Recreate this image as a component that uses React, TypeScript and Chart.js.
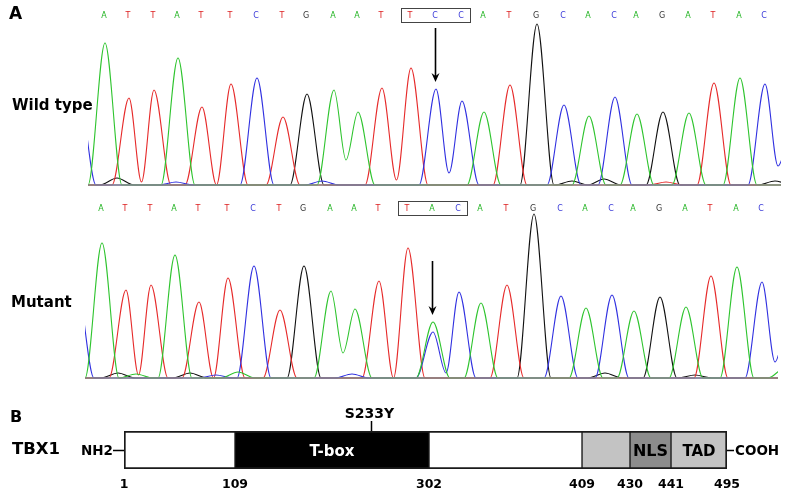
import React, { useEffect, useRef } from "react";
import { Chart, registerables } from "chart.js";

Chart.register(...registerables);

const FONT = '"DejaVu Sans", Verdana, Arial, sans-serif';

// ---- Panel A: sequencing traces (positions in trace scan units) ----
const wtSequence = "ATTATTCTGAATTCCATGCACAGATAC".split("");
const mutantSequence = "ATTATTCTGAATTACATGCACAGATAC".split("");
const basePositions = [17, 41, 66, 90, 114, 143, 169, 195, 219, 246, 270, 294, 323, 348, 374, 396, 422, 449, 476, 501, 527, 549, 575, 601, 626, 652, 677];
const wtPeakHeights = [142, 87, 95, 127, 78, 101, 107, 68, 91, 95, 73, 97, 117, 96, 84, 73, 100, 161, 80, 69, 88, 71, 73, 72, 102, 107, 101];
const mutantPeakHeights = [135, 88, 93, 123, 76, 100, 112, 68, 112, 87, 69, 97, 130, 56, 86, 75, 93, 164, 82, 70, 83, 67, 81, 71, 102, 111, 96];
// secondary (background) peaks: [scan position, base, height]
const wtMinorPeaks: [number, string, number][] = [
  [-9, "C", 90], [29, "G", 7], [88, "C", 3], [234, "C", 4], [484, "G", 4], [516, "G", 6], [578, "T", 3], [687, "G", 4], [703, "C", 50],
];
const mutantMinorPeaks: [number, string, number][] = [
  [-8, "C", 90], [33, "G", 5], [51, "A", 4], [105, "G", 5], [131, "C", 3], [153, "A", 6], [267, "C", 4], [348, "C", 46], [520, "G", 5], [610, "G", 3], [703, "C", 55], [700, "A", 10],
];
// valleys between neighbouring peaks of the same base: [scan position, base, height]
const wtValleys: [number, string, number][] = [
  [54, "T", 3], [128, "T", 0], [258, "A", 25], [308, "T", 5], [361, "C", 12], [690, "C", 19],
];
const mutantValleys: [number, string, number][] = [
  [54, "T", 3], [129, "T", 0], [258, "A", 25], [309, "T", 0], [361, "C", 5], [690, "C", 16],
];
const boxedBases = [12, 13, 14];
const variantIndex = 13;

// ---- Panel B: TBX1 domain schematic ----
const domainNames = ["", "T-box", "", "", "NLS", "TAD"];
const domainDrawnWidths = [111, 194, 153, 48, 41, 56]; // schematic (not to scale) widths as drawn
const boundaryResidues = [1, 109, 302, 409, 430, 441, 495];
const mutationLabel = "S233Y";
const mutationMarkerAt = 247; // schematic units

// ---- styles ----
const traceColors: Record<string, string> = { A: "#2ec42e", C: "#3030e0", G: "#111111", T: "#e62a2a" };
const letterColors: Record<string, string> = { A: "#22b422", C: "#3a3ad8", G: "#333333", T: "#dd2222" };
const domainFill = ["#ffffff", "#000000", "#ffffff", "#c3c3c3", "#8c8c8c", "#c3c3c3"];
const domainText = ["#000", "#ffffff", "#000", "#000", "#000", "#000"];
const domainFont = [15, 15, 15, 15, 16, 15];

const HALF_WIDTH = 17;

function tracePoints(
  seq: string[],
  heights: number[],
  minor: [number, string, number][],
  valleys: [number, string, number][],
  base: string
) {
  const peaks: { x: number; h: number }[] = [];
  seq.forEach((b, i) => {
    if (b === base) peaks.push({ x: basePositions[i], h: heights[i] });
  });
  minor.forEach(([x, b, h]) => {
    if (b === base) peaks.push({ x, h });
  });
  peaks.sort((a, b) => a.x - b.x);
  const pts: { x: number; y: number }[] = [{ x: -60, y: 0 }];
  peaks.forEach((p, i) => {
    const prev = peaks[i - 1];
    const next = peaks[i + 1];
    if (!prev || p.x - prev.x >= 2 * HALF_WIDTH) pts.push({ x: p.x - HALF_WIDTH, y: 0 });
    pts.push({ x: p.x, y: p.h });
    if (!next || next.x - p.x >= 2 * HALF_WIDTH) {
      pts.push({ x: p.x + HALF_WIDTH, y: 0 });
    } else {
      const mid = (p.x + next.x) / 2;
      const v = valleys.find(([vx, vb]) => vb === base && Math.abs(vx - mid) <= 4);
      pts.push({ x: mid, y: v ? v[2] : 0 });
    }
  });
  pts.push({ x: 780, y: 0 });
  return pts;
}

type TraceCfg = {
  seq: string[];
  heights: number[];
  minor: [number, string, number][];
  valleys: [number, string, number][];
  padding: { left: number; right: number; top: number; bottom: number };
  yMax: number;
  letterY: number;
  labels: { text: string; x: number; y: number; size: number }[];
};

function makeTraceChart(canvas: HTMLCanvasElement, cfg: TraceCfg) {
  const decor = {
    id: "traceDecor",
    afterDatasetsDraw(chart: any) {
      const { ctx, chartArea } = chart;
      const xs = chart.scales.x;
      const ys = chart.scales.y;
      ctx.save();
      // baseline
      const y0 = ys.getPixelForValue(0);
      ctx.strokeStyle = "#8c8c8c";
      ctx.lineWidth = 1.5;
      ctx.beginPath();
      ctx.moveTo(chartArea.left, y0);
      ctx.lineTo(chartArea.right, y0);
      ctx.stroke();
      // base letters
      ctx.font = `8px ${FONT}`;
      ctx.textAlign = "center";
      ctx.textBaseline = "alphabetic";
      cfg.seq.forEach((b, i) => {
        ctx.fillStyle = letterColors[b];
        ctx.fillText(b, xs.getPixelForValue(basePositions[i]) - 1, cfg.letterY);
      });
      // box around codon
      const bx0 = Math.round(xs.getPixelForValue(basePositions[boxedBases[0]]) - 10) + 0.5;
      const bx1 = Math.round(xs.getPixelForValue(basePositions[boxedBases[boxedBases.length - 1]]) + 8) + 0.5;
      ctx.strokeStyle = "#444";
      ctx.lineWidth = 1;
      ctx.strokeRect(bx0, cfg.letterY - 9.5, bx1 - bx0, 14);
      // arrow
      const ax = Math.round(xs.getPixelForValue(basePositions[variantIndex])) - 0.5;
      const tip = ys.getPixelForValue(cfg.heights[variantIndex]) - 7;
      ctx.strokeStyle = "#000";
      ctx.lineWidth = 1.6;
      ctx.beginPath();
      ctx.moveTo(ax, tip - 54);
      ctx.lineTo(ax, tip - 5);
      ctx.stroke();
      ctx.fillStyle = "#000";
      ctx.beginPath();
      ctx.moveTo(ax, tip);
      ctx.lineTo(ax - 4, tip - 9);
      ctx.lineTo(ax, tip - 6);
      ctx.lineTo(ax + 4, tip - 9);
      ctx.closePath();
      ctx.fill();
      // row labels
      ctx.fillStyle = "#000";
      ctx.textAlign = "left";
      cfg.labels.forEach((l) => {
        ctx.font = `bold ${l.size}px ${FONT}`;
        ctx.fillText(l.text, l.x, l.y);
      });
      ctx.restore();
    },
  };
  return new Chart(canvas, {
    type: "line",
    data: {
      datasets: ["A", "C", "T", "G"].map((b) => ({
        label: b,
        data: tracePoints(cfg.seq, cfg.heights, cfg.minor, cfg.valleys, b),
        borderColor: traceColors[b],
        borderWidth: 1.1,
        pointRadius: 0,
        fill: false,
        cubicInterpolationMode: "monotone" as const,
      })),
    },
    options: {
      responsive: false,
      animation: false,
      events: [],
      layout: { padding: cfg.padding },
      plugins: { legend: { display: false }, tooltip: { enabled: false } },
      scales: {
        x: { type: "linear", min: 0, max: 693, display: false },
        y: { type: "linear", min: -2, max: cfg.yMax, display: false },
      },
    },
    plugins: [decor],
  });
}

function makeDomainChart(canvas: HTMLCanvasElement) {
  const bounds = [0];
  domainDrawnWidths.forEach((w) => bounds.push(bounds[bounds.length - 1] + w));
  const decor = {
    id: "domainDecor",
    afterDatasetsDraw(chart: any) {
      const { ctx, chartArea: a } = chart;
      const xs = chart.scales.x;
      const cy = (a.top + a.bottom) / 2;
      ctx.save();
      ctx.textBaseline = "alphabetic";
      // domain names
      ctx.textAlign = "center";
      domainNames.forEach((n, i) => {
        if (!n) return;
        ctx.fillStyle = domainText[i];
        ctx.font = `bold ${domainFont[i]}px ${FONT}`;
        ctx.fillText(n, xs.getPixelForValue((bounds[i] + bounds[i + 1]) / 2), cy + 6);
      });
      // residue numbers
      ctx.fillStyle = "#000";
      ctx.font = `bold 12.5px ${FONT}`;
      boundaryResidues.forEach((r, i) => {
        ctx.fillText(String(r), xs.getPixelForValue(bounds[i]), a.bottom + 19);
      });
      // termini
      ctx.strokeStyle = "#000";
      ctx.lineWidth = 1.5;
      ctx.beginPath();
      ctx.moveTo(a.left - 11, cy + 0.5);
      ctx.lineTo(a.left, cy + 0.5);
      ctx.moveTo(a.right, cy + 0.5);
      ctx.lineTo(a.right + 7, cy + 0.5);
      ctx.stroke();
      ctx.font = `bold 13.5px ${FONT}`;
      ctx.textAlign = "right";
      ctx.fillText("NH2", a.left - 11, cy + 5);
      ctx.textAlign = "left";
      ctx.fillText("COOH", a.right + 8, cy + 5);
      // mutation marker
      const mx = Math.round(xs.getPixelForValue(mutationMarkerAt)) + 0.5;
      ctx.beginPath();
      ctx.moveTo(mx, a.top - 10);
      ctx.lineTo(mx, a.top);
      ctx.stroke();
      ctx.font = `bold 14px ${FONT}`;
      ctx.textAlign = "center";
      ctx.fillText(mutationLabel, mx - 2, a.top - 13);
      // panel labels
      ctx.textAlign = "left";
      ctx.font = `bold 16px ${FONT}`;
      ctx.fillText("B", 10, 29);
      ctx.font = `bold 16.5px ${FONT}`;
      ctx.fillText("TBX1", 12, 61);
      ctx.restore();
    },
  };
  const last = domainDrawnWidths.length - 1;
  return new Chart(canvas, {
    type: "bar",
    data: {
      labels: ["TBX1"],
      datasets: domainDrawnWidths.map((w, i) => ({
        label: domainNames[i] || `segment ${i + 1}`,
        data: [w],
        backgroundColor: domainFill[i],
        borderColor: "#1a1a1a",
        borderWidth: { top: 2, bottom: 2, left: i === 0 ? 2 : 1, right: i === last ? 2 : 1 },
        borderSkipped: false,
        barPercentage: 1,
        categoryPercentage: 1,
      })),
    },
    options: {
      indexAxis: "y",
      responsive: false,
      animation: false,
      events: [],
      layout: { padding: { left: 124, right: 60, top: 38, bottom: 24 } },
      plugins: { legend: { display: false }, tooltip: { enabled: false } },
      scales: {
        x: { type: "linear", stacked: true, min: 0, max: 603, display: false },
        y: { stacked: true, display: false },
      },
    },
    plugins: [decor],
  });
}

export default function App() {
  const wtRef = useRef<HTMLCanvasElement>(null);
  const mutRef = useRef<HTMLCanvasElement>(null);
  const domRef = useRef<HTMLCanvasElement>(null);

  useEffect(() => {
    document.body.style.margin = "0";
    const charts = [
      makeTraceChart(wtRef.current!, {
        seq: wtSequence,
        heights: wtPeakHeights,
        minor: wtMinorPeaks,
        valleys: wtValleys,
        padding: { left: 88, right: 6, top: 20, bottom: 6 },
        yMax: 165,
        letterY: 18,
        labels: [
          { text: "A", x: 9, y: 19, size: 17 },
          { text: "Wild type", x: 12, y: 110, size: 15 },
        ],
      }),
      makeTraceChart(mutRef.current!, {
        seq: mutantSequence,
        heights: mutantPeakHeights,
        minor: mutantMinorPeaks,
        valleys: mutantValleys,
        padding: { left: 85, right: 9, top: 19, bottom: 13 },
        yMax: 166,
        letterY: 18,
        labels: [{ text: "Mutant", x: 11, y: 114, size: 15 }],
      }),
      makeDomainChart(domRef.current!),
    ];
    return () => charts.forEach((c) => c.destroy());
  }, []);

  return (
    <div style={{ position: "relative", width: 787, height: 493, background: "#fff", overflow: "hidden" }}>
      <canvas ref={wtRef} width={787} height={193} style={{ position: "absolute", left: 0, top: 0 }} />
      <canvas ref={mutRef} width={787} height={200} style={{ position: "absolute", left: 0, top: 193 }} />
      <canvas ref={domRef} width={787} height={100} style={{ position: "absolute", left: 0, top: 393 }} />
    </div>
  );
}
